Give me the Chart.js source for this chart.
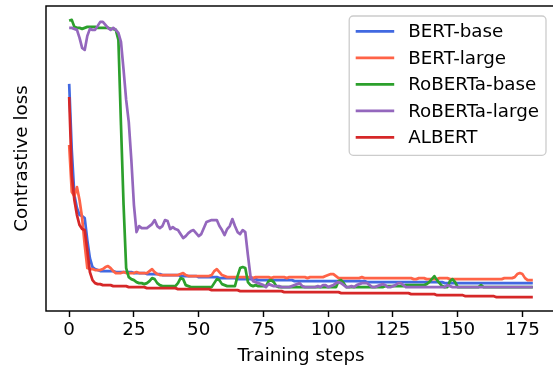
<!DOCTYPE html>
<html>
<head>
<meta charset="utf-8">
<script src="https://cdn.jsdelivr.net/npm/chart.js@4/dist/chart.umd.min.js"></script>
<style>
  html, body { margin: 0; padding: 0; background: #fff; overflow: hidden; }
  #wrap { width: 553px; height: 367px; overflow: hidden; }
  canvas { display: block; }
</style>
</head>
<body>
<div id="wrap"><canvas id="lossChart" width="560" height="367"></canvas></div>
<script>
// loss per training step (one value per step)
const bertBase = [
  2.27,1.61,1.16,1.03,0.96,0.95,0.93,0.71,0.53,0.44,
  0.42,0.41,0.40,0.40,0.40,0.40,0.40,0.40,0.39,0.39,
  0.39,0.39,0.39,0.39,0.39,0.38,0.38,0.38,0.38,0.38,
  0.37,0.37,0.37,0.37,0.37,0.37,0.36,0.36,0.36,0.36,
  0.36,0.36,0.36,0.35,0.35,0.35,0.35,0.35,0.35,0.35,
  0.34,0.34,0.34,0.34,0.34,0.34,0.34,0.34,0.33,0.33,
  0.33,0.33,0.33,0.33,0.33,0.32,0.32,0.32,0.32,0.32,
  0.32,0.32,0.32,0.31,0.31,0.31,0.31,0.31,0.31,0.31,
  0.31,0.31,0.31,0.31,0.31,0.31,0.31,0.30,0.30,0.30,
  0.30,0.30,0.30,0.30,0.30,0.30,0.30,0.30,0.30,0.30,
  0.30,0.30,0.30,0.30,0.30,0.30,0.30,0.30,0.30,0.30,
  0.30,0.30,0.30,0.30,0.30,0.29,0.29,0.29,0.29,0.29,
  0.29,0.29,0.29,0.29,0.29,0.29,0.29,0.29,0.29,0.29,
  0.29,0.29,0.29,0.29,0.29,0.29,0.29,0.29,0.29,0.29,
  0.29,0.29,0.29,0.29,0.29,0.28,0.28,0.28,0.28,0.28,
  0.28,0.28,0.28,0.28,0.28,0.28,0.28,0.28,0.28,0.28,
  0.28,0.28,0.28,0.28,0.28,0.28,0.28,0.28,0.28,0.28,
  0.28,0.28,0.28,0.28,0.28,0.28,0.28,0.28,0.28,0.28
];
const bertLarge = [
  1.66,1.19,1.15,1.24,1.11,0.93,0.66,0.43,0.42,0.42,
  0.41,0.41,0.41,0.42,0.44,0.45,0.43,0.40,0.38,0.38,
  0.38,0.39,0.38,0.38,0.38,0.38,0.39,0.38,0.38,0.38,
  0.38,0.40,0.42,0.39,0.37,0.36,0.36,0.36,0.36,0.36,
  0.36,0.36,0.36,0.37,0.38,0.36,0.35,0.35,0.35,0.35,
  0.35,0.35,0.35,0.35,0.35,0.36,0.40,0.42,0.39,0.36,
  0.35,0.34,0.34,0.34,0.34,0.34,0.34,0.34,0.34,0.34,
  0.34,0.33,0.34,0.34,0.34,0.34,0.34,0.34,0.33,0.34,
  0.34,0.34,0.34,0.34,0.33,0.34,0.34,0.34,0.34,0.34,
  0.34,0.34,0.33,0.34,0.34,0.34,0.34,0.34,0.34,0.35,
  0.36,0.37,0.37,0.35,0.33,0.33,0.33,0.33,0.33,0.33,
  0.33,0.33,0.33,0.34,0.33,0.33,0.33,0.33,0.33,0.33,
  0.33,0.33,0.33,0.33,0.33,0.33,0.33,0.33,0.33,0.33,
  0.33,0.33,0.33,0.32,0.32,0.33,0.33,0.33,0.32,0.32,
  0.32,0.32,0.32,0.33,0.33,0.33,0.33,0.32,0.32,0.32,
  0.32,0.32,0.32,0.32,0.32,0.32,0.32,0.32,0.32,0.32,
  0.32,0.32,0.32,0.32,0.32,0.32,0.32,0.32,0.33,0.33,
  0.33,0.33,0.34,0.37,0.38,0.37,0.33,0.31,0.31,0.31
];
const robertaBase = [
  2.90,2.91,2.84,2.83,2.83,2.82,2.83,2.84,2.84,2.84,
  2.84,2.83,2.83,2.83,2.83,2.83,2.82,2.82,2.81,2.71,
  1.86,1.06,0.43,0.34,0.32,0.31,0.29,0.28,0.28,0.27,
  0.28,0.30,0.33,0.32,0.28,0.26,0.25,0.25,0.25,0.25,
  0.25,0.25,0.28,0.33,0.32,0.26,0.25,0.24,0.24,0.24,
  0.24,0.24,0.24,0.24,0.24,0.24,0.28,0.32,0.31,0.27,
  0.26,0.25,0.25,0.25,0.25,0.35,0.43,0.44,0.43,0.29,
  0.26,0.25,0.26,0.25,0.25,0.25,0.25,0.30,0.31,0.29,
  0.25,0.24,0.24,0.24,0.24,0.24,0.24,0.24,0.24,0.24,
  0.24,0.24,0.24,0.24,0.24,0.24,0.24,0.24,0.24,0.24,
  0.24,0.24,0.24,0.24,0.30,0.31,0.28,0.24,0.24,0.24,
  0.24,0.24,0.24,0.24,0.24,0.24,0.24,0.24,0.24,0.24,
  0.24,0.24,0.25,0.25,0.25,0.25,0.25,0.25,0.25,0.25,
  0.26,0.26,0.26,0.26,0.26,0.26,0.26,0.26,0.27,0.29,
  0.32,0.35,0.31,0.28,0.25,0.24,0.24,0.30,0.32,0.29,
  0.24,0.24,0.24,0.24,0.24,0.24,0.24,0.24,0.24,0.26,
  0.24,0.24,0.24,0.24,0.24,0.24,0.24,0.24,0.24,0.24,
  0.24,0.24,0.24,0.24,0.24,0.24,0.24,0.24,0.24,0.24
];
const robertaLarge = [
  2.83,2.83,2.82,2.81,2.73,2.63,2.61,2.75,2.82,2.81,
  2.81,2.85,2.89,2.89,2.86,2.83,2.81,2.83,2.81,2.78,
  2.69,2.41,2.11,1.89,1.51,1.06,0.79,0.85,0.83,0.83,
  0.83,0.85,0.87,0.91,0.85,0.83,0.85,0.91,0.90,0.82,
  0.84,0.82,0.81,0.77,0.73,0.75,0.78,0.80,0.81,0.78,
  0.75,0.77,0.83,0.89,0.90,0.91,0.91,0.91,0.85,0.81,
  0.76,0.82,0.85,0.92,0.85,0.79,0.77,0.81,0.79,0.56,
  0.35,0.30,0.29,0.28,0.27,0.26,0.24,0.27,0.26,0.25,
  0.25,0.25,0.24,0.24,0.24,0.24,0.25,0.26,0.27,0.28,
  0.25,0.24,0.24,0.24,0.24,0.24,0.25,0.24,0.26,0.26,
  0.24,0.25,0.26,0.28,0.29,0.28,0.26,0.24,0.24,0.25,
  0.24,0.26,0.27,0.28,0.28,0.28,0.26,0.24,0.24,0.25,
  0.26,0.27,0.26,0.24,0.24,0.25,0.26,0.28,0.28,0.26,
  0.24,0.24,0.24,0.24,0.24,0.24,0.24,0.24,0.24,0.24,
  0.24,0.24,0.24,0.24,0.24,0.24,0.26,0.25,0.24,0.24,
  0.24,0.24,0.24,0.24,0.24,0.24,0.24,0.24,0.24,0.24,
  0.24,0.24,0.24,0.24,0.24,0.24,0.24,0.24,0.24,0.24,
  0.24,0.24,0.24,0.24,0.24,0.24,0.24,0.24,0.24,0.24
];
const albert = [
  2.14,1.36,1.11,0.96,0.86,0.82,0.81,0.61,0.39,0.31,
  0.28,0.27,0.27,0.26,0.26,0.26,0.26,0.25,0.25,0.25,
  0.25,0.25,0.25,0.24,0.24,0.24,0.24,0.24,0.24,0.24,
  0.23,0.23,0.23,0.23,0.23,0.23,0.23,0.23,0.23,0.23,
  0.23,0.23,0.22,0.22,0.22,0.22,0.22,0.22,0.22,0.22,
  0.22,0.22,0.22,0.22,0.22,0.21,0.21,0.21,0.21,0.21,
  0.21,0.21,0.21,0.21,0.21,0.21,0.20,0.20,0.20,0.20,
  0.20,0.20,0.20,0.20,0.20,0.20,0.20,0.20,0.20,0.20,
  0.20,0.20,0.20,0.19,0.19,0.19,0.19,0.19,0.19,0.19,
  0.19,0.19,0.19,0.19,0.19,0.19,0.19,0.19,0.19,0.19,
  0.19,0.19,0.19,0.19,0.19,0.18,0.18,0.18,0.18,0.18,
  0.18,0.18,0.18,0.18,0.18,0.18,0.18,0.18,0.18,0.18,
  0.18,0.18,0.18,0.18,0.18,0.18,0.18,0.18,0.18,0.18,
  0.18,0.18,0.17,0.17,0.17,0.17,0.17,0.17,0.17,0.17,
  0.17,0.17,0.16,0.16,0.16,0.16,0.16,0.16,0.16,0.16,
  0.16,0.16,0.16,0.15,0.15,0.15,0.15,0.15,0.15,0.15,
  0.15,0.15,0.15,0.15,0.15,0.14,0.14,0.14,0.14,0.14,
  0.14,0.14,0.14,0.14,0.14,0.14,0.14,0.14,0.14,0.14
];

const seriesNames = ['BERT-base', 'BERT-large', 'RoBERTa-base', 'RoBERTa-large', 'ALBERT'];
const seriesValues = [bertBase, bertLarge, robertaBase, robertaLarge, albert];
const seriesColors = ['#4169e1', '#ff6347', '#2ca02c', '#9467bd', '#d62728'];
const xTicks = [0, 25, 50, 75, 100, 125, 150, 175];

const FONT = 'DejaVu Sans';
const FS = 18.3;

// matplotlib-like 5% margins around the data
const nSteps = bertBase.length;
const xMin = -0.05 * (nSteps - 1), xMax = (nSteps - 1) * 1.05;
const allVals = seriesValues.flat();
const yLo = Math.min(...allVals), yHi = Math.max(...allVals);
const yPad = (yHi - yLo) * 0.05;

const datasets = seriesValues.map((vals, i) => ({
  label: seriesNames[i],
  data: vals.map((v, step) => ({ x: step, y: v })),
  borderColor: seriesColors[i],
  borderWidth: 2.7,
  pointRadius: 0,
  tension: 0,
  fill: false,
  borderJoinStyle: 'round',
  order: seriesValues.length - i
}));

const frame = {
  id: 'frame',
  afterDatasetsDraw(chart) {
    const { ctx, chartArea: a } = chart;
    ctx.save();
    ctx.strokeStyle = '#000';
    ctx.lineWidth = 1.45;
    ctx.strokeRect(a.left, a.top, a.right - a.left, a.bottom - a.top);
    ctx.restore();
  }
};

const legendBox = {
  id: 'legendBox',
  afterDraw(chart) {
    const { ctx, chartArea: a } = chart;
    const sets = chart.data.datasets;
    ctx.save();
    ctx.font = `${FS}px "${FONT}"`;
    const textW = Math.max(...sets.map(d => ctx.measureText(d.label).width));
    const right = a.right - 10;
    const top = a.top + 10;
    const w = textW + 66;
    const left = right - w;
    const rowH = 26.5;
    const h = 15.3 + rowH * (sets.length - 1) + 18;
    ctx.beginPath();
    ctx.roundRect(left, top, w, h, 4);
    ctx.fillStyle = 'rgba(255,255,255,0.8)';
    ctx.fill();
    ctx.strokeStyle = '#cccccc';
    ctx.lineWidth = 1.3;
    ctx.stroke();
    ctx.textBaseline = 'middle';
    ctx.textAlign = 'left';
    sets.forEach((d, i) => {
      const y = top + 15.3 + i * rowH;
      ctx.strokeStyle = d.borderColor;
      ctx.lineWidth = 2.7;
      ctx.beginPath();
      ctx.moveTo(left + 6.5, y);
      ctx.lineTo(left + 45, y);
      ctx.stroke();
      ctx.fillStyle = '#000';
      ctx.fillText(d.label, left + 59, y + 1);
    });
    ctx.restore();
  }
};

new Chart(document.getElementById('lossChart'), {
  type: 'line',
  data: { datasets },
  options: {
    responsive: false,
    animation: false,
    devicePixelRatio: 1,
    layout: { padding: { left: 0, right: 4, top: 6, bottom: 0 } },
    plugins: { legend: { display: false }, tooltip: { enabled: false } },
    scales: {
      x: {
        type: 'linear',
        min: xMin,
        max: xMax,
        afterBuildTicks: (scale) => { scale.ticks = xTicks.map(v => ({ value: v })); },
        afterFit: (scale) => { scale.height = 56; },
        border: { display: false },
        grid: {
          display: true,
          drawOnChartArea: false,
          drawTicks: true,
          tickLength: 6,
          tickWidth: 1.45,
          tickColor: '#000'
        },
        ticks: {
          color: '#000',
          padding: 2,
          maxRotation: 0,
          autoSkip: false,
          font: { family: FONT, size: FS }
        },
        title: {
          display: true,
          text: 'Training steps',
          color: '#000',
          padding: { top: 0, bottom: 0 },
          font: { family: FONT, size: FS }
        }
      },
      y: {
        min: yLo - yPad,
        max: yHi + yPad,
        afterFit: (scale) => { scale.width = 46; },
        border: { display: false },
        grid: { display: false },
        ticks: { display: false },
        title: {
          display: true,
          text: 'Contrastive loss',
          color: '#000',
          padding: { top: 11, bottom: 0 },
          font: { family: FONT, size: FS }
        }
      }
    }
  },
  plugins: [frame, legendBox]
});
</script>
</body>
</html>
